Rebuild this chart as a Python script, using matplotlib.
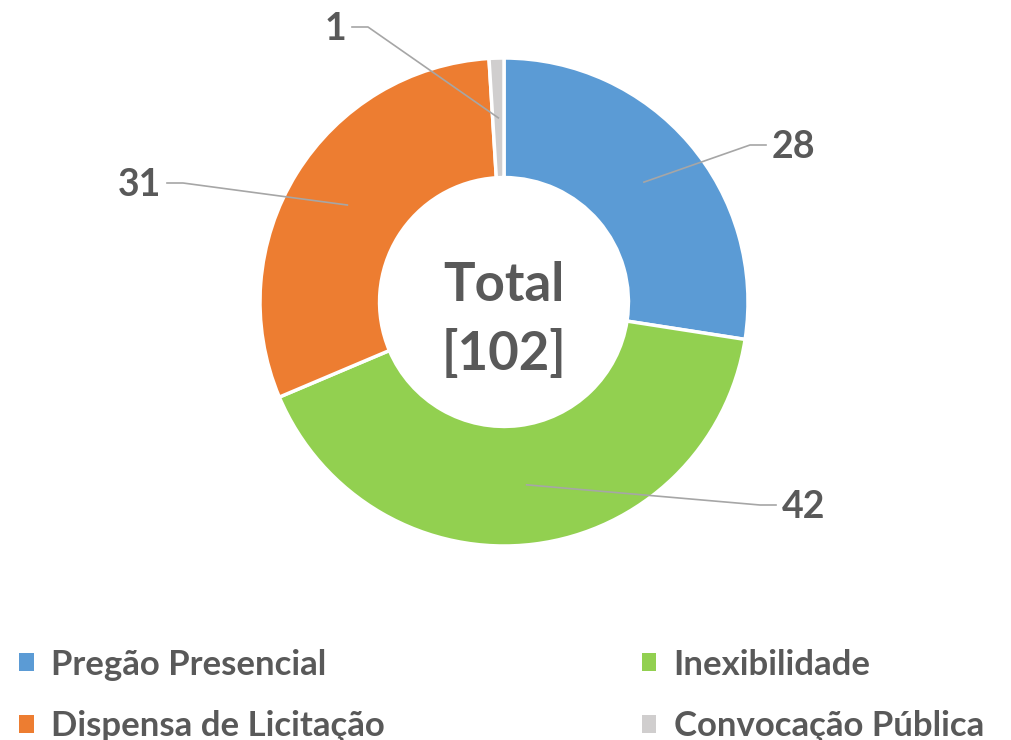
import numpy as np
import matplotlib.pyplot as plt
from matplotlib.patches import Patch

plt.rcParams['font.family'] = ['Lato', 'DejaVu Sans']
plt.rcParams['font.weight'] = 'bold'

# data
categories = ['Pregão Presencial', 'Inexibilidade', 'Dispensa de Licitação', 'Convocação Pública']
values = [28, 42, 31, 1]
colors = ['#5B9BD5', '#92D050', '#ED7D31', '#D0CECE']
total = sum(values)

text_color = '#595959'
line_color = '#A6A6A6'

W, H = 1012, 740
fig = plt.figure(figsize=(W / 100, H / 100), dpi=100)
ax = fig.add_axes([0, 0, 1, 1])

cx, cy, R = 504, 438, 244
ring = 0.49

wedges, _ = ax.pie(values, colors=colors, startangle=90, counterclock=False,
                   center=(cx, cy), radius=R, frame=True,
                   wedgeprops=dict(width=R * ring, edgecolor='white', linewidth=2.5))
ax.set_xlim(0, W)
ax.set_ylim(0, H)
ax.axis('off')

ax.text(cx, cy - 18, 'Total\n[{}]'.format(total), ha='center', va='center',
        fontsize=38, color=text_color, fontweight='bold', linespacing=1.45)

# leader-line elbows (offset from center, pixels) and side
elbows = [(246, 157, 1), (256, -203, 1), (-321, 119, -1), (-136, 275, -1)]
r_mid = R * (1 - ring / 2)
for w, v, (ex, ey, side) in zip(wedges, values, elbows):
    ang = np.deg2rad((w.theta1 + w.theta2) / 2)
    sx, sy = cx + r_mid * np.cos(ang), cy + r_mid * np.sin(ang)
    px, py = cx + ex, cy + ey
    ax.plot([sx, px, px + 16 * side], [sy, py, py], color=line_color, lw=1.2)
    ax.text(px + 22 * side, py - 2, str(v), ha='left' if side > 0 else 'right',
            va='center', fontsize=27, color=text_color, fontweight='bold')

# legend filled row by row, like the original
order = [0, 2, 1, 3]
handles = [Patch(facecolor=colors[i], edgecolor='none') for i in order]
labels = [categories[i] for i in order]
leg = ax.legend(handles, labels, ncol=2, loc='lower left',
                bbox_to_anchor=(-0.012, -0.045), frameon=False,
                fontsize=25, handlelength=0.42, handleheight=0.42,
                handletextpad=0.5, columnspacing=7.4, labelspacing=0.85)
for t in leg.get_texts():
    t.set_color(text_color)

fig.savefig('out.png', dpi=100)
